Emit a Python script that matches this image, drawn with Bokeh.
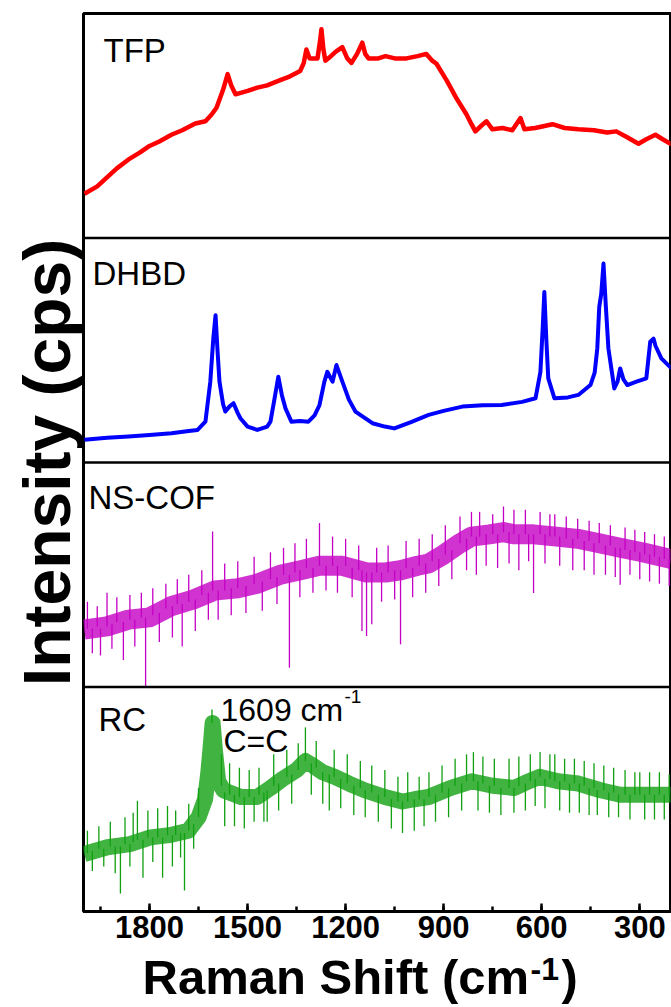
from bokeh.plotting import figure
from bokeh.models import Range1d, Span, SingleIntervalTicker, FixedTicker
from bokeh.core.properties import value
from bokeh.layouts import column
from bokeh.embed import file_html
from bokeh.resources import INLINE

# ---------------- data (Raman shift in cm-1, intensity in % of panel height) -------------
tfp_shift = [1999, 1960, 1930, 1900, 1864, 1830, 1800, 1770, 1733, 1700, 1660, 1629, 1610, 1595,
             1575, 1561, 1550, 1537, 1500, 1470, 1440, 1406, 1370, 1339, 1328, 1320, 1310, 1295,
             1286, 1278, 1274, 1268, 1262, 1245, 1230, 1210, 1195, 1182, 1165, 1149, 1140, 1130,
             1100, 1078, 1050, 1014, 980, 953, 935, 922, 890, 860, 830, 815, 803, 785, 769, 751,
             720, 690, 665, 653, 620, 567, 530, 488, 440, 400, 372, 340, 304, 280, 252, 230, 203]
tfp_int = [19.7, 23, 27, 31, 35, 38, 41, 43, 46, 48, 51, 52, 55, 58,
           66, 73, 68, 64, 65.5, 67, 68, 70, 72, 74.4, 78, 84, 80, 80,
           80, 88, 93, 84, 79, 81, 83, 85, 80, 78, 82, 87, 82, 80,
           80, 81, 80, 80, 81, 82, 79, 77.6, 70, 62, 55, 50.7, 47.5, 50, 52, 48.4,
           49, 48, 53.4, 48.4, 49, 50.7, 49, 48.4, 48, 47, 47.5, 45, 42, 44, 46, 44, 41.7]

dhbd_shift = [1999, 1930, 1864, 1800, 1733, 1680, 1653, 1629, 1614, 1605, 1598, 1592, 1586, 1575,
              1568, 1555, 1543, 1530, 1522, 1500, 1470, 1440, 1430, 1418, 1406, 1395, 1384, 1366,
              1340, 1314, 1295, 1280, 1265, 1256, 1240, 1228, 1210, 1190, 1170, 1118, 1080, 1051,
              1000, 946, 900, 843, 780, 723, 660, 619, 604, 597, 592, 586, 580, 561, 520, 488,
              451, 438, 430, 424, 418, 411, 404, 396, 378, 368, 360, 350, 338, 310, 280, 268,
              258, 252, 234, 203]
dhbd_int = [10.1, 11, 11.6, 12.2, 13, 14, 14.5, 18.2, 36, 55, 65.6, 50, 36, 26,
            22.7, 25, 26.4, 22, 19.7, 16, 14.5, 16, 18.2, 28, 38.2, 30, 24.1, 18.2,
            18.5, 18.2, 21, 25.6, 36, 40.4, 36, 43.4, 36, 28, 22.7, 17.5, 16, 15.2,
            18, 21.2, 23, 24.9, 25.5, 25.6, 27, 28.6, 40.4, 60, 76, 55, 37.5, 28.6, 29, 30.1,
            34.5, 40, 50.8, 69.3, 75, 88.6, 70, 50.8, 33, 36, 41.9, 37, 34.5, 36, 37.5, 53.8,
            55.2, 52, 46.4, 41.9]

nscof_shift = [2000, 1930, 1864, 1800, 1733, 1666, 1600, 1530, 1470, 1400, 1338, 1280, 1210, 1136,
               1078, 1032, 980, 946, 900, 850, 815, 760, 717, 684, 625, 555, 490, 424, 360, 292, 203]
nscof_int = [25.6, 27, 30, 31, 36, 39, 43, 44, 46, 50, 52, 54, 54, 51,
             51, 52, 54, 55, 59, 64, 67, 68, 69, 68, 68, 67, 66, 64, 62, 60, 57]
# noise excursions: (shift, local level, tip)
nscof_spikes = [
    (1990, 26, 38), (1975, 26, 15), (1960, 27, 36), (1950, 26, 14), (1930, 27, 42), (1915, 28, 17),
    (1900, 29, 40), (1880, 29, 12), (1860, 30, 41), (1845, 30, 18), (1825, 31, 42), (1812, 31, 0.4),
    (1790, 32, 44), (1770, 33, 20), (1750, 35, 46), (1730, 36, 22), (1715, 37, 48), (1700, 37, 18),
    (1680, 38, 50), (1660, 39, 25), (1640, 41, 52), (1620, 42, 30), (1607, 43, 69.3), (1590, 43, 30),
    (1570, 43, 55), (1550, 44, 32), (1530, 44, 56), (1505, 45, 33), (1480, 46, 58), (1455, 47, 34),
    (1430, 48, 60), (1410, 49, 37), (1390, 50, 62), (1372, 50, 8.6), (1355, 51, 64), (1340, 52, 40),
    (1320, 53, 66), (1300, 53, 42), (1280, 54, 73), (1260, 54, 43), (1240, 54, 67), (1225, 54, 42),
    (1200, 54, 66), (1180, 53, 40), (1160, 52, 63), (1150, 52, 25), (1136, 51, 22.7), (1120, 51, 28),
    (1105, 51, 62), (1090, 51, 38), (1070, 51, 63), (1050, 52, 39), (1032, 52, 19), (1015, 53, 65),
    (995, 53, 40), (975, 54, 66), (955, 55, 42), (935, 56, 68), (915, 57, 45), (895, 59, 72),
    (875, 61, 48), (850, 64, 76), (830, 66, 52), (815, 67, 78), (800, 67, 50), (790, 67, 78),
    (770, 68, 54), (750, 68, 77), (735, 68, 53), (717, 69, 80.4), (700, 69, 55), (685, 68, 79),
    (670, 68, 52), (650, 68, 79), (640, 68, 56), (625, 68, 41.9), (605, 68, 78), (590, 68, 55),
    (575, 67, 77), (560, 67, 77), (545, 67, 54), (525, 66, 76), (505, 66, 52), (490, 66, 75),
    (470, 65, 52), (455, 65, 74), (440, 64, 50), (424, 64, 73), (405, 63, 50), (390, 63, 72),
    (375, 62, 49), (360, 62, 45.6), (345, 61, 71), (330, 61, 50), (315, 60, 70), (300, 60, 48),
    (285, 59, 69), (270, 59, 47), (255, 58, 68), (240, 58, 46), (225, 57, 67), (210, 57, 45)]

rc_shift = [2000, 1929, 1860, 1797, 1740, 1681, 1650, 1630, 1620, 1612, 1607, 1600, 1590, 1574,
            1520, 1470, 1430, 1393, 1350, 1323, 1300, 1270, 1234, 1190, 1142, 1080, 1026, 990,
            946, 880, 815, 750, 684, 640, 607, 550, 488, 420, 360, 280, 203]
rc_int = [25.6, 28.6, 30, 33, 34, 36, 42, 50, 62, 75, 84, 72, 58, 54,
          51, 51, 55, 59, 63, 67, 65, 62, 60, 57, 54, 51, 49, 50,
          51, 55, 58, 56, 55, 58, 60, 58, 57, 54, 52, 52, 52]
rc_spikes = [
    (1990, 26, 36), (1975, 27, 18), (1955, 28, 38), (1940, 28, 20), (1920, 29, 40), (1905, 29, 17),
    (1889, 29, 8), (1875, 30, 42), (1860, 30, 20), (1850, 31, 44), (1837, 32, 49.3), (1820, 32, 15),
    (1805, 33, 45), (1790, 33, 22), (1775, 33, 46), (1760, 33, 15), (1745, 34, 47), (1730, 34, 20),
    (1720, 34, 45), (1705, 35, 24), (1693, 35, 9.3), (1680, 36, 48), (1665, 39, 28), (1650, 42, 55),
    (1609, 84, 90), (1580, 56, 70), (1570, 53, 38), (1555, 52, 66), (1540, 52, 38), (1525, 51, 64),
    (1510, 51, 37), (1495, 51, 63), (1480, 51, 40), (1465, 52, 64), (1450, 53, 40), (1440, 54, 40),
    (1420, 56, 70), (1405, 57, 45), (1380, 60, 72), (1365, 61, 48), (1345, 63, 75), (1323, 67, 82),
    (1305, 66, 52), (1290, 64, 76), (1270, 62, 48), (1250, 61, 45), (1235, 60, 72), (1215, 59, 46),
    (1195, 57, 70), (1175, 56, 43), (1155, 55, 67), (1140, 54, 42), (1120, 53, 65), (1100, 52, 40),
    (1080, 51, 63), (1060, 50, 37), (1040, 49, 60), (1026, 49, 35), (1010, 49, 62), (990, 50, 36),
    (975, 50, 60), (960, 50, 38), (945, 51, 62), (925, 52, 40), (905, 53, 65), (885, 55, 42),
    (865, 56, 68), (845, 57, 45), (830, 58, 70), (809, 58, 71), (795, 58, 45), (780, 57, 69),
    (760, 56, 44), (745, 56, 68), (725, 55, 43), (700, 55, 68), (685, 55, 44), (670, 56, 69),
    (650, 57, 45), (635, 58, 70), (620, 59, 47), (605, 60, 71), (590, 59, 46), (575, 59, 70),
    (560, 58, 70), (545, 58, 45), (530, 58, 68), (515, 57, 44), (500, 57, 68), (485, 57, 44),
    (470, 56, 67), (455, 55, 43), (440, 55, 66), (430, 54, 43), (410, 54, 65), (395, 53, 42),
    (380, 53, 64), (365, 52, 42), (345, 52, 63), (330, 52, 41), (315, 52, 62), (300, 52, 62),
    (285, 52, 41), (270, 52, 62), (255, 52, 41), (240, 52, 62), (225, 52, 41), (210, 52, 61)]

panel_names = ["TFP", "DHBD", "NS-COF", "RC"]
x_tick_interval = 300

# ---------------- layout ----------------
W, H = 671, 1007
FL, FR, FT, FB = 83, 670, 13, 911
MAIN_H = 950
X0, X1 = 2002, 206
Y0, Y1 = 0, 400
FONT = "Liberation Sans"
BASE_SHIFT = 0.40  # measured drop of the rendered baseline, in em


def sx(px):
    return X0 + (px - FL) * (X1 - X0) / (FR - FL)


def sy(py):
    return Y1 - (py - FT) * (Y1 - Y0) / (FB - FT)


p = figure(width=W, height=MAIN_H, x_range=Range1d(X0, X1), y_range=Range1d(Y0, Y1),
           output_backend="svg", toolbar_location=None,
           min_border_left=FL, min_border_right=W - FR, min_border_top=FT,
           min_border_bottom=MAIN_H - FB)
p.background_fill_color = "white"
p.border_fill_color = "white"
p.outline_line_color = "black"
p.outline_line_width = 3
p.xgrid.visible = False
p.ygrid.visible = False

ay = p.yaxis[0]
ay.ticker = FixedTicker(ticks=[])
ay.axis_line_color = None
ay.major_tick_line_color = None
ay.minor_tick_line_color = None
ay.axis_label = "Intensity (cps)"
ay.axis_label_text_font = FONT
ay.axis_label_text_font_style = "bold"
ay.axis_label_text_font_size = "66px"
ay.axis_label_text_color = "black"
ay.axis_label_standoff = 0

ax = p.xaxis[0]
ax.ticker = SingleIntervalTicker(interval=x_tick_interval, num_minor_ticks=2)
ax.axis_line_width = 3
ax.axis_line_color = "black"
ax.major_tick_in = 8
ax.major_tick_out = 0
ax.minor_tick_in = 5
ax.minor_tick_out = 0
ax.major_tick_line_width = 2.5
ax.minor_tick_line_width = 2.5
ax.major_label_text_font = FONT
ax.major_label_text_font_style = "bold"
ax.major_label_text_font_size = "31px"
ax.major_label_text_color = "black"
ax.major_label_standoff = 4

for loc in (100, 200, 300):
    p.add_layout(Span(location=loc, dimension="width", line_color="black", line_width=2.5))

off = {"TFP": 300, "DHBD": 200, "NS-COF": 100, "RC": 0}

p.line(tfp_shift, [v + off["TFP"] for v in tfp_int], line_color="#FF0000", line_width=4.5,
       line_join="round")
p.line(dhbd_shift, [v + off["DHBD"] for v in dhbd_int], line_color="#0000FF", line_width=4,
       line_join="round")

mag = "#C400C4"
p.segment(x0=[s[0] for s in nscof_spikes], y0=[s[1] + off["NS-COF"] for s in nscof_spikes],
          x1=[s[0] for s in nscof_spikes], y1=[s[2] + off["NS-COF"] for s in nscof_spikes],
          line_color=mag, line_width=1.3)
p.line(nscof_shift, [v + off["NS-COF"] for v in nscof_int], line_color=mag, line_width=20,
       line_join="round", line_alpha=0.8)

grn = "#10A010"
p.segment(x0=[s[0] for s in rc_spikes], y0=[s[1] + off["RC"] for s in rc_spikes],
          x1=[s[0] for s in rc_spikes], y1=[s[2] + off["RC"] for s in rc_spikes],
          line_color=grn, line_width=1.3)
p.line(rc_shift, [v + off["RC"] for v in rc_int], line_color=grn, line_width=16,
       line_join="round", line_alpha=0.8)


def label(fig, text, x, y, size, bold=False):
    fig.text(x=[x], y=[y], text=[text], text_font=value(FONT), text_font_size=f"{size}px",
             text_font_style="bold" if bold else "normal", text_color="black",
             text_baseline="alphabetic", text_align="left")


def plabel(text, px, base_py, size):
    # place text so that its baseline lands on screen row base_py
    label(p, text, sx(px), sy(base_py - BASE_SHIFT * size), size)


plabel(panel_names[0], 103, 63, 33)
plabel(panel_names[1], 92, 286, 33)
plabel(panel_names[2], 88, 510, 33)
plabel(panel_names[3], 98, 732, 33)
plabel("1609 cm", 220, 722, 32)
plabel("-1", 344, 704, 19)
plabel("C=C", 223, 753, 32)

# ---------- x-axis title strip (frame is aligned with the main frame: x in screen px) ----------
TH = H - MAIN_H
t = figure(width=W, height=TH, x_range=Range1d(FL, FR), y_range=Range1d(0, TH),
           output_backend="svg", toolbar_location=None, x_axis_location=None,
           y_axis_location=None, min_border=0)
t.outline_line_color = None
t.xgrid.visible = False
t.ygrid.visible = False
t.background_fill_color = "white"
t.border_fill_color = "white"


def tlabel(text, px, base_py, size):
    label(t, text, px, (H - base_py) + BASE_SHIFT * size, size, bold=True)


tlabel("Raman Shift (cm", 142, 996, 49)
tlabel("-1", 530, 981, 32)
tlabel(")", 561, 996, 49)

open("out.html", "w").write(file_html(column(p, t, spacing=0), INLINE))
